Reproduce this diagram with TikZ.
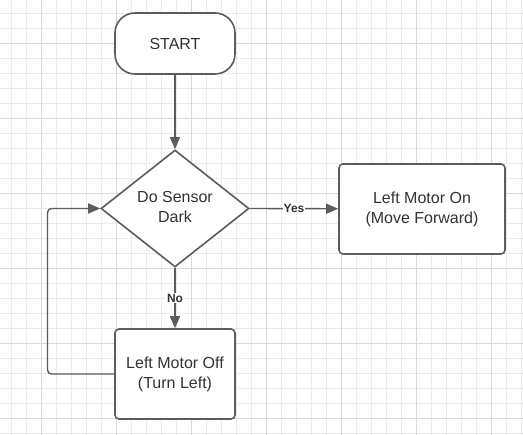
\documentclass[tikz,border=0pt]{standalone}
\usepackage{fontspec}
\setmainfont{Liberation Sans}
\usetikzlibrary{shapes.geometric,arrows.meta}
\definecolor{gridminor}{HTML}{EBEBEB}
\definecolor{gridmajor}{HTML}{DADADA}
\definecolor{linegray}{HTML}{5C5C5C}
\definecolor{textgray}{HTML}{333333}
\tikzset{
  shapebase/.style={draw=linegray, line width=1.6pt, fill=white, text=textgray, align=center,
    font=\fontsize{16}{20}\selectfont, inner sep=0pt},
  terminal/.style={shapebase, rectangle, rounded corners=20pt, minimum width=120pt, minimum height=61pt},
  procbox/.style={shapebase, rectangle, rounded corners=4pt},
  decision/.style={shapebase, diamond, aspect=1.265, minimum width=148pt, minimum height=117pt},
  arr/.style={draw=linegray, line width=1.4pt, -{Triangle[length=12pt,width=10pt]}},
  lbl/.style={fill=white, text=textgray, font=\bfseries\fontsize{12}{14}\selectfont, inner sep=1pt}
}
\begin{document}
\begin{tikzpicture}[x=1pt,y=-1pt]
\useasboundingbox (0,0) rectangle (523,435);
\fill[white] (0,0) rectangle (523,435);
% grid
\foreach \k in {0,...,34} {\draw[gridminor, line width=0.9pt] (11+15*\k,0) -- (11+15*\k,435);}
\foreach \k in {0,...,28} {\draw[gridminor, line width=0.9pt] (0,13.3+15*\k) -- (523,13.3+15*\k);}
\foreach \k in {0,...,6} {\draw[gridmajor, line width=0.9pt] (41+75*\k,0) -- (41+75*\k,435);}
\foreach \k in {0,...,5} {\draw[gridmajor, line width=0.9pt] (0,43.3+75*\k) -- (523,43.3+75*\k);}
% nodes
\node[terminal] (start) at (175,43.5) {START};
\node[decision] (dec) at (175,208.5) {\raisebox{2.5pt}{Do Sensor}\\\raisebox{2.5pt}{Dark}};
\node[procbox, minimum width=166pt, minimum height=90pt] (on) at (422,209) {Left Motor On\\(Move Forward)};
\node[procbox, minimum width=120pt, minimum height=90pt] (off) at (175,374) {Left Motor Off\\(Turn Left)};
\coordinate (lp) at (47.5,374);
% connectors
\draw[arr] (start) -- (dec);
\draw[arr] (dec.east) -- node[lbl] {Yes} (on);
\draw[arr] (dec.south) -- node[lbl] {No} (off);
\draw[arr, rounded corners=4pt] (off.west) -- (lp) |- (dec.west);
\end{tikzpicture}
\end{document}
